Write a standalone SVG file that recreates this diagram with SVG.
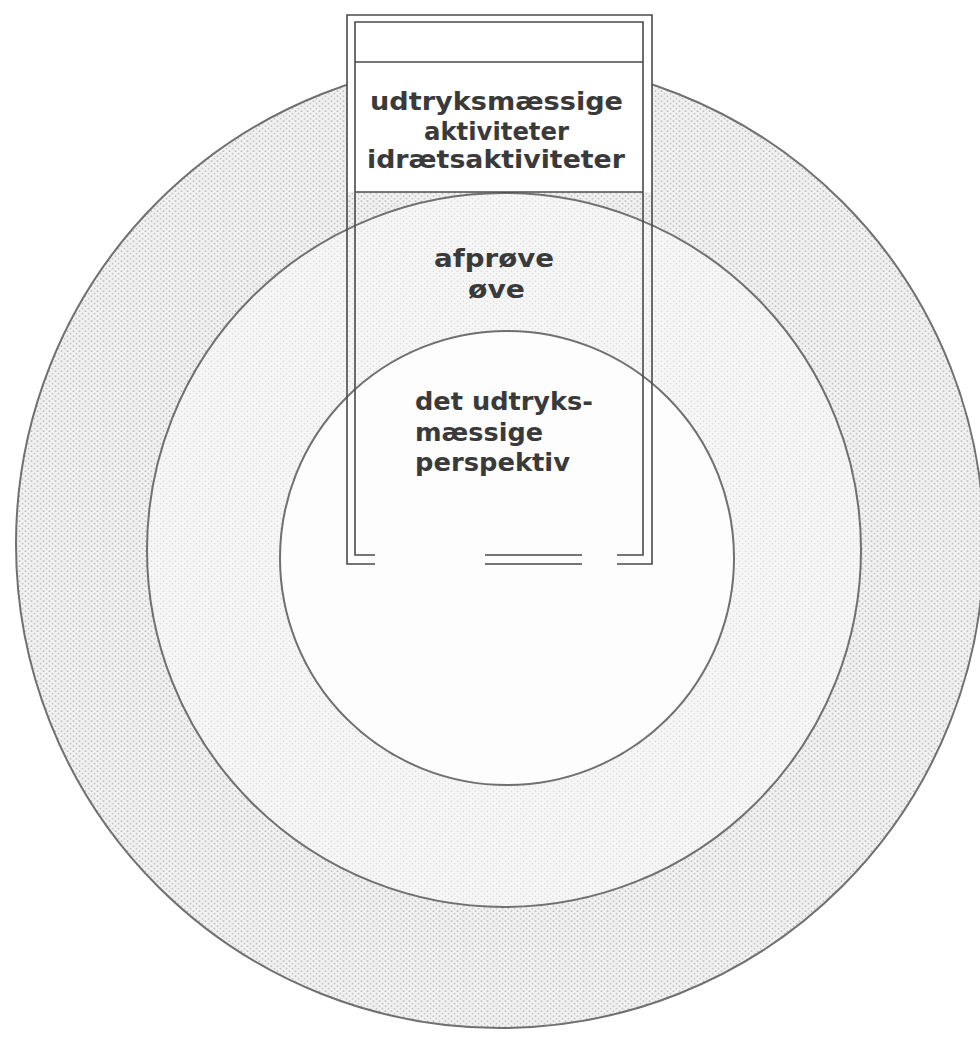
<svg xmlns="http://www.w3.org/2000/svg" width="980" height="1040" viewBox="0 0 980 1040">
<style>
.ring{stroke:#707070;stroke-width:2}
.frame{fill:none;stroke:#4a4a4a;stroke-width:1.6}
.lbl{font-family:"DejaVu Sans","Liberation Sans",sans-serif;font-size:25px;font-weight:bold;fill:#3a3a3a}
</style>
<defs>
<pattern id="dotsOuter" width="6" height="5" patternUnits="userSpaceOnUse">
<rect width="6" height="5" fill="#f1f1f1"/>
<circle cx="1.5" cy="1.2" r="0.9" fill="#bdbdbd"/>
<circle cx="4.5" cy="3.7" r="0.9" fill="#c4c4c4"/>
</pattern>
<pattern id="dotsMid" width="6" height="5" patternUnits="userSpaceOnUse">
<rect width="6" height="5" fill="#f6f6f6"/>
<circle cx="1.5" cy="1.2" r="0.8" fill="#d8d8d8"/>
<circle cx="4.5" cy="3.7" r="0.8" fill="#dddddd"/>
</pattern>
</defs>
<rect width="980" height="1040" fill="#ffffff"/>
<g id="outer-ring"><circle class="ring" cx="500" cy="544" r="484" fill="url(#dotsOuter)"/></g>
<g id="middle-ring"><circle class="ring" cx="504" cy="550" r="357" fill="url(#dotsMid)"/></g>
<g id="inner-circle"><circle class="ring" cx="507" cy="558" r="227" fill="#fdfdfd"/></g>
<g id="frame">
<rect x="347" y="15" width="305" height="177" fill="#ffffff"/>
<path class="frame" d="M375,564 H347 V15 H652 V564 H617 M485,564 H582"/>
<path class="frame" d="M375,555 H355 V22 H643 V555 H617 M485,555 H582"/>
<line class="frame" x1="355" y1="62" x2="643" y2="62"/>
<line class="frame" x1="355" y1="192" x2="643" y2="192"/>
</g>
<g id="label-activities">
<text class="lbl" x="370" y="110" textLength="253" lengthAdjust="spacingAndGlyphs">udtryksmæssige</text>
<text class="lbl" x="424" y="140" textLength="145" lengthAdjust="spacingAndGlyphs">aktiviteter</text>
<text class="lbl" x="367" y="168" textLength="258" lengthAdjust="spacingAndGlyphs">idrætsaktiviteter</text>
</g>
<g id="label-practice">
<text class="lbl" x="434" y="267" textLength="120" lengthAdjust="spacingAndGlyphs">afprøve</text>
<text class="lbl" x="468" y="298" textLength="57" lengthAdjust="spacingAndGlyphs">øve</text>
</g>
<g id="label-perspective">
<text class="lbl" x="415" y="410" textLength="178" lengthAdjust="spacingAndGlyphs">det udtryks-</text>
<text class="lbl" x="415" y="441" textLength="128" lengthAdjust="spacingAndGlyphs">mæssige</text>
<text class="lbl" x="415" y="471" textLength="155" lengthAdjust="spacingAndGlyphs">perspektiv</text>
</g>
<g id="connectors"></g>
</svg>
